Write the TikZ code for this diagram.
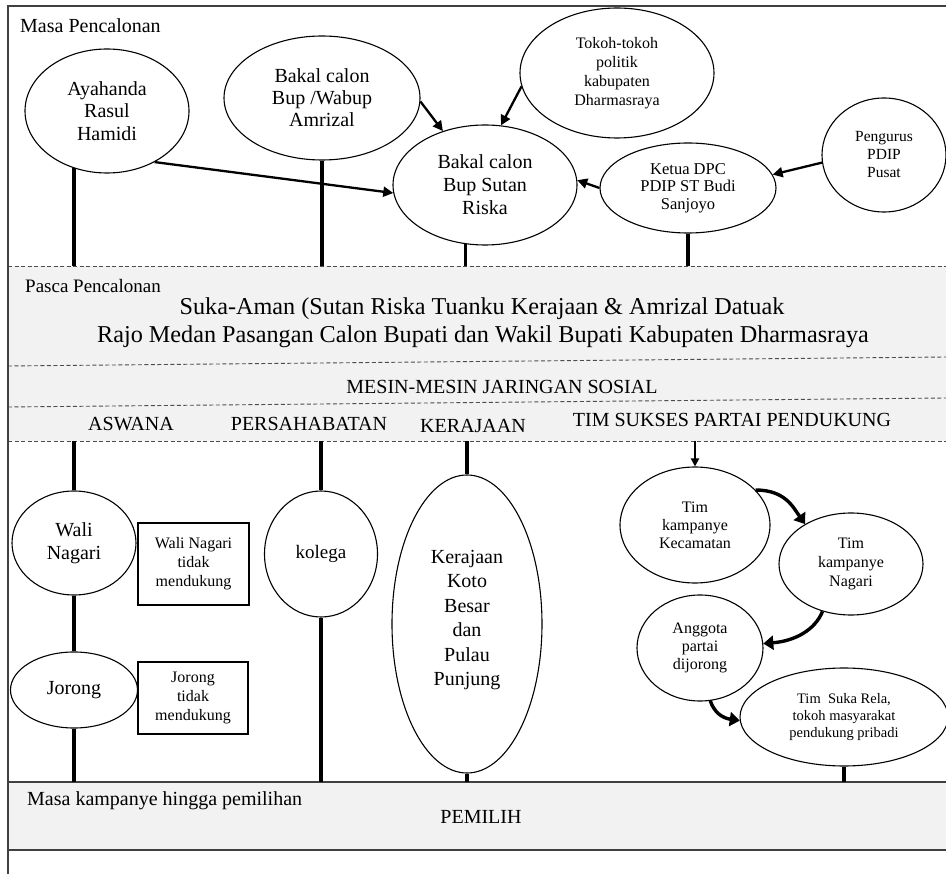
\documentclass[tikz,border=0pt]{standalone}
\usepackage{fontspec}
\setmainfont{Liberation Serif}
\usetikzlibrary{shapes.geometric,arrows.meta}
\newcommand\fsz[2]{\fontsize{#1}{#2}\selectfont}
\definecolor{bandgray}{HTML}{F2F2F2}
\definecolor{framegray}{HTML}{404040}
\begin{document}
\begin{tikzpicture}[x=1pt,y=-1pt,
  ell/.style={ellipse,draw,line width=1.1pt,inner sep=0pt,align=center},
  boxnode/.style={rectangle,draw,line width=1.1pt,inner sep=0pt,align=center},
  arr/.style={line width=2.3pt,-{Triangle[length=10pt,width=10pt]}},
  darr/.style={line width=2pt,-{Triangle[length=8pt,width=8pt]}},
  vline/.style={line width=3.4pt},
  carr/.style={line width=3.4pt,-{Triangle[length=10pt,width=14pt]}},
  dline/.style={dash pattern=on 4pt off 2.5pt,line width=0.9pt,draw=black!70},
  sline/.style={line width=1.4pt,draw=framegray},
  lbl/.style={anchor=base west,inner sep=0pt},
  hdr/.style={anchor=base,inner sep=0pt,font=\fsz{20}{23}}
]
\useasboundingbox (0,0) rectangle (946,874);
\fill[white] (0,0) rectangle (946,874);
% bands
\fill[bandgray] (8,266) rectangle (946,441);
\fill[bandgray] (8,782) rectangle (946,850);
\coordinate (t1) at (0,266);
\coordinate (b1) at (0,441);
\coordinate (b2) at (0,782);
\draw[dline] (8,266) -- (946,266);
\draw[dline] (8,366) -- (946,357);
\draw[dline] (8,407) -- (946,398);
\draw[dline] (8,441) -- (946,441);
\draw[sline] (8,782) -- (946,782);
\draw[sline] (8,850) -- (946,850);
\draw[sline] (8,874) -- (8,6) -- (946,6);

% labels
\node[lbl,font=\fsz{20}{23}] (l1) at (20,33) {Masa Pencalonan};
\node[lbl,font=\fsz{19}{22}] (l2) at (25,293) {Pasca Pencalonan};
\node[lbl,font=\fsz{20}{23}] (l3) at (27,805) {Masa kampanye hingga pemilihan};
\node[anchor=base,inner sep=0pt,font=\fsz{24.2}{28}] (s1) at (482,315) {Suka-Aman (Sutan Riska Tuanku Kerajaan \& Amrizal Datuak};
\node[anchor=base,inner sep=0pt,font=\fsz{24.2}{28}] (s2) at (483,343) {Rajo Medan Pasangan Calon Bupati dan Wakil Bupati Kabupaten Dharmasraya};
\node[hdr] (h0) at (502,394) {MESIN-MESIN JARINGAN SOSIAL};
\node[hdr] (h1) at (131,431) {ASWANA};
\node[hdr] (h2) at (309,431) {PERSAHABATAN};
\node[hdr] (h3) at (473,433) {KERAJAAN};
\node[hdr] (h4) at (732,427) {TIM SUKSES PARTAI PENDUKUNG};
\node[hdr] (pm) at (481,823) {PEMILIH};

% top ellipses
\node[ell,minimum width=164pt,minimum height=124pt,font=\fsz{20}{22.5}] (ay) at (107,111) {Ayahanda\\Rasul\\Hamidi};
\node[ell,minimum width=196pt,minimum height=124pt,font=\fsz{20}{22}] (amr) at (322,98) {Bakal calon\\Bup /Wabup\\Amrizal};
\node[ell,minimum width=184pt,minimum height=120pt,font=\fsz{20}{23}] (ris) at (485,185) {Bakal calon\\Bup Sutan\\Riska};
\node[ell,minimum width=194pt,minimum height=130pt,font=\fsz{16}{19}] (tok) at (617,73) {Tokoh-tokoh\\politik\\kabupaten\\Dharmasraya};
\node[ell,minimum width=176pt,minimum height=90pt,font=\fsz{16.5}{17.5}] (ket) at (688,188) {Ketua DPC\\PDIP ST Budi\\Sanjoyo};
\node[ell,minimum width=124pt,minimum height=114pt,font=\fsz{15.5}{18}] (pen) at (884,155) {Pengurus\\PDIP\\Pusat};

\draw[arr] (ay.313) -- (ris.185);
\draw[arr] (amr.358) -- (ris.128);
\draw[arr] (tok.188) -- (ris.75);
\draw[arr] (ket.180) -- (ris.3);
\draw[arr] (pen.187) -- (ket.9);

\draw[vline] (ay.240) -- (ay.240 |- t1);
\draw[vline] (amr.south) -- (amr.south |- t1);
\draw[vline] (ris.252) -- (ris.252 |- t1);
\draw[vline] (ket.south) -- (ket.south |- t1);

% bottom section
\node[ell,minimum width=124pt,minimum height=104pt,font=\fsz{20}{23}] (wal) at (74,543) {Wali\\Nagari};
\node[boxnode,minimum width=111pt,minimum height=82pt,font=\fsz{16}{19}] (wb) at (193.5,564) {Wali Nagari\\tidak\\mendukung};
\node[ell,minimum width=127pt,minimum height=76pt,font=\fsz{20}{23}] (jor) at (74,690) {Jorong};
\node[boxnode,minimum width=110pt,minimum height=72pt,font=\fsz{16}{19}] (jb) at (193,698) {Jorong\\tidak\\mendukung};
\node[ell,minimum width=113pt,minimum height=126pt,font=\fsz{19}{22}] (kol) at (321,554) {kolega};
\node[ell,minimum width=150pt,minimum height=298pt,font=\fsz{20}{24.4}] (ker) at (467,624) {Kerajaan\\Koto\\Besar\\dan\\Pulau\\Punjung\\[-12pt]\mbox{}};
\node[ell,minimum width=150pt,minimum height=116pt,font=\fsz{16}{18}] (kec) at (695,525) {Tim\\kampanye\\Kecamatan};
\node[ell,minimum width=144pt,minimum height=102pt,font=\fsz{16}{19}] (nag) at (851,564) {Tim\\kampanye\\Nagari};
\node[ell,minimum width=126pt,minimum height=106pt,font=\fsz{16}{18}] (ang) at (700,648) {Anggota\\partai\\dijorong};
\node[ell,minimum width=208pt,minimum height=98pt,font=\fsz{14.5}{16.7}] (suk) at (844,717) {Tim\ \ Suka Rela,\\tokoh masyarakat\\pendukung pribadi};

\draw[vline] (wal.north |- b1) -- (wal.north);
\draw[vline] (wal.south) -- (jor.north);
\draw[vline] (jor.south) -- (jor.south |- b2);
\draw[vline] (kol.north |- b1) -- (kol.north);
\draw[vline] (kol.south) -- (kol.south |- b2);
\draw[vline] (ker.north |- b1) -- (ker.north);
\draw[vline] (ker.south) -- (ker.south |- b2);
\draw[vline] (suk.south) -- (suk.south |- b2);
\draw[darr] (kec.north |- b1) -- (kec.north);

\draw[carr] (kec.30) .. controls (785,490) and (793,507) .. (nag.139);
\draw[carr] (nag.239) .. controls (815,630) and (795,641) .. (ang.4);
\draw[carr] (ang.281) .. controls (714,712) and (722,718) .. (suk.182);
\end{tikzpicture}
\end{document}
